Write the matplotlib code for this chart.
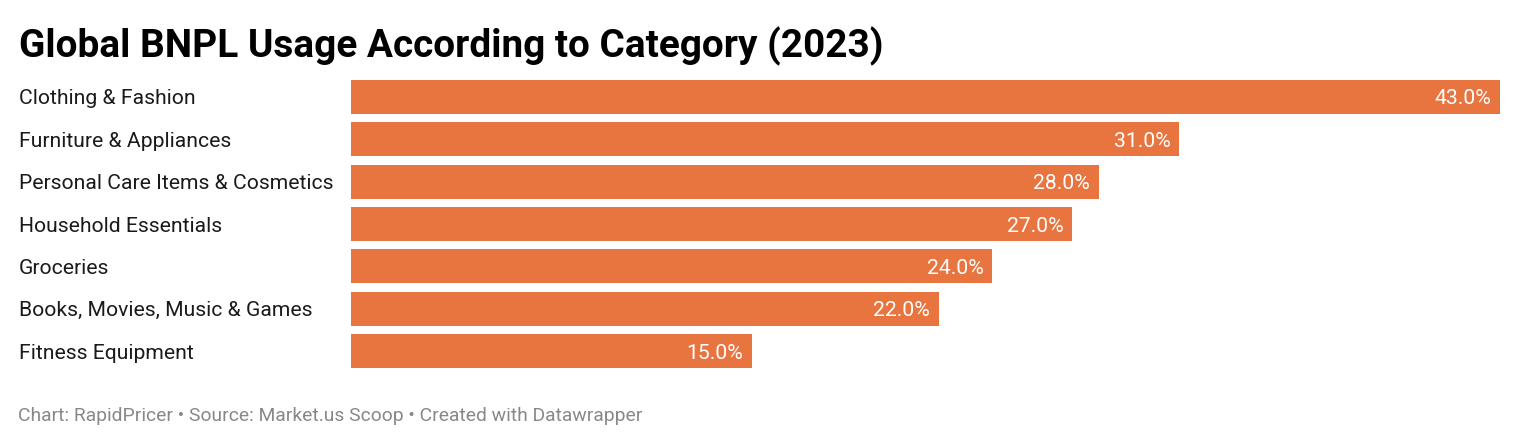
import matplotlib
matplotlib.use("Agg")
import matplotlib.pyplot as plt
from matplotlib import transforms

categories = ["Clothing & Fashion", "Furniture & Appliances", "Personal Care Items & Cosmetics",
              "Household Essentials", "Groceries", "Books, Movies, Music & Games", "Fitness Equipment"]
values = [43.0, 31.0, 28.0, 27.0, 24.0, 22.0, 15.0]
title = "Global BNPL Usage According to Category (2023)"
footer = "Chart: RapidPricer • Source: Market.us Scoop • Created with Datawrapper"

plt.rcParams['font.family'] = ['Roboto', 'DejaVu Sans']
W, H = 1520, 445
fig = plt.figure(figsize=(W/100, H/100), dpi=100)
fig.patch.set_facecolor('white')

ax = fig.add_axes([351/W, 1-372.2/H, 1149/W, (372.2-75.8)/H])
y = list(range(len(categories)))
ax.barh(y, values, height=0.803, color='#E8743F', edgecolor='none')
ax.set_xlim(0, 43)
ax.set_ylim(len(categories)-0.5, -0.5)
ax.axis('off')

off = transforms.offset_copy(ax.transData, fig=fig, x=-9/100*72, y=0, units='points')
for i, v in enumerate(values):
    ax.text(v, i, f"{v:.1f}%", transform=off, ha='right', va='center_baseline',
            color='white', fontsize=15.2)

lab_tr = transforms.blended_transform_factory(fig.transFigure, ax.transData)
for i, c in enumerate(categories):
    ax.text(19/W, i, c, transform=lab_tr, ha='left', va='center_baseline',
            color='#1a1a1a', fontsize=15.2)

fig.text(19/W, 1-57/H, title, fontsize=27.9, fontweight='bold', color='#000000',
         ha='left', va='baseline')
fig.text(18/W, 1-421/H, footer, fontsize=13.85, color='#888888', ha='left', va='baseline')

fig.savefig("out.png", dpi=100, facecolor='white')
